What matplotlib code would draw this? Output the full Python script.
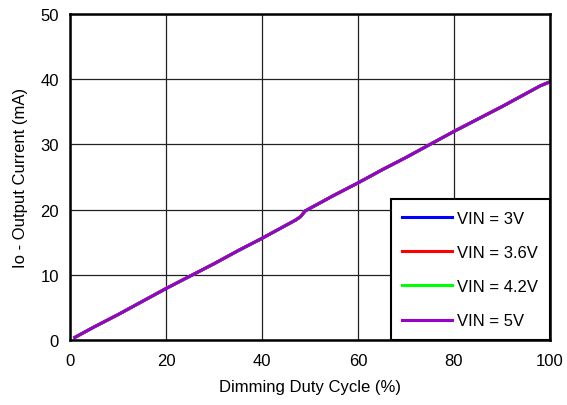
import matplotlib
matplotlib.use("Agg")
import matplotlib.pyplot as plt

plt.rcParams['font.family'] = ['Liberation Sans', 'DejaVu Sans']

duty = [1, 5, 10, 15, 20, 25, 30, 35, 40, 45, 47, 48, 49, 50, 55, 60, 65, 70, 75, 80, 85, 90, 95, 98, 100]
io_3v = [0.4, 2.0, 3.9, 5.9, 7.9, 9.8, 11.7, 13.7, 15.6, 17.6, 18.4, 18.9, 19.8, 20.2, 22.2, 24.1, 26.1, 28.0, 30.0, 32.0, 33.9, 35.8, 37.8, 39.0, 39.6]
io_36v = io_3v
io_42v = io_3v
io_5v = io_3v

series = [("VIN = 3V", io_3v, "#0000FF"),
          ("VIN = 3.6V", io_36v, "#FF0000"),
          ("VIN = 4.2V", io_42v, "#00FF00"),
          ("VIN = 5V", io_5v, "#9900CC")]

fig = plt.figure(figsize=(5.67, 4.06), dpi=100)
ax = fig.add_axes([0.1235, 0.160, 0.8465, 0.803])
for lab, ys, c in series:
    ax.plot(duty, ys, color=c, lw=2.2, label=lab)

ax.set_xlim(0, 100)
ax.set_ylim(0, 50)
ax.set_xticks(range(0, 101, 20))
ax.set_yticks(range(0, 51, 10))
ax.grid(True, color="#222222", lw=0.9)
ax.tick_params(length=0, labelsize=12)
ax.tick_params(axis='x', pad=9)
ax.tick_params(axis='y', pad=8)
for s in ax.spines.values():
    s.set_linewidth(1.8)
ax.set_xlabel("Dimming Duty Cycle (%)", fontsize=12, labelpad=8)
ax.set_ylabel("Io - Output Current (mA)", fontsize=12, labelpad=9)

leg = ax.legend(loc="lower right", borderaxespad=0, fontsize=12, handlelength=3.0,
                labelspacing=1.15, fancybox=False, framealpha=1, edgecolor="black",
                borderpad=0.7, handletextpad=0.3)
leg.get_frame().set_linewidth(1.5)

fig.savefig("out.png", dpi=100)
